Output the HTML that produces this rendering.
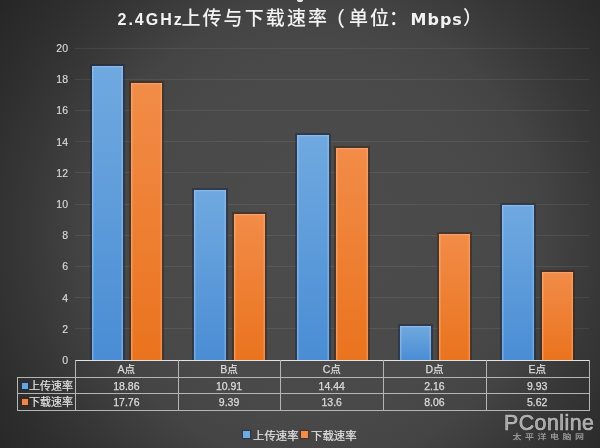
<!DOCTYPE html><html><head><meta charset="utf-8"><title>chart</title><style>
html,body{margin:0;padding:0;}
body{width:600px;height:448px;overflow:hidden;position:relative;
 background:radial-gradient(circle at 315px 235px,#4c4c4c 0px,#494949 180px,#444444 230px,#373737 290px,#2e2e2e 340px,#252525 400px);
 font-family:"Liberation Sans","Noto Sans CJK SC",sans-serif;color:#d9d9d9;}
.a{position:absolute;}
.t{position:absolute;white-space:nowrap;line-height:1;}
.g{position:absolute;left:75px;width:514px;height:1px;background:rgba(255,255,255,0.075);}
.yl{position:absolute;right:532px;font-size:10.5px;color:#d9d9d9;line-height:1;text-align:right;-webkit-text-stroke:0.15px #d9d9d9;}
.bo{position:absolute;filter:blur(0.5px);}
.bob{background:rgba(20,42,75,0.5);}
.boo{background:rgba(72,34,10,0.5);}
.bar{position:absolute;box-sizing:border-box;}
.b{background:linear-gradient(#70a9e0,#4a8dd4);box-shadow:inset 1.5px 1.2px 0 rgba(165,200,240,0.5),inset -1.5px 0 0 rgba(165,200,240,0.45);}
.o{background:linear-gradient(#f28c48,#ea731e);box-shadow:inset 1.5px 1.2px 0 rgba(245,180,140,0.55),inset -1.5px 0 0 rgba(245,180,140,0.45);}
.hl{position:absolute;height:1px;background:#b5b5b5;}
.vl{position:absolute;width:1px;background:#b5b5b5;}
.cell{position:absolute;font-size:10.5px;text-align:center;line-height:1;color:#dcdcdc;-webkit-text-stroke:0.25px #dcdcdc;}
.tl{position:absolute;white-space:nowrap;line-height:1;font-weight:bold;font-family:"Liberation Sans",sans-serif;letter-spacing:2px;color:#f2f2f2;}
.tc{position:absolute;white-space:nowrap;line-height:1;font-size:19px;font-weight:500;font-family:"Liberation Sans","Noto Sans CJK SC",sans-serif;color:#f2f2f2;}
</style></head><body>
<div class="tl" style="left:117.5px;top:12px;font-size:16px">2.4GHz</div>
<div class="tc" style="left:181.4px;top:9.2px;letter-spacing:2.1px">上传与下载速率</div>
<div class="tc" style="left:325px;top:9.2px;font-size:20px">（</div>
<div class="tc" style="left:349px;top:9.2px;letter-spacing:2.1px">单位</div>
<div class="tc" style="left:389px;top:9.2px">：</div>
<div class="tl" style="left:410.5px;top:11.5px;font-size:16px;font-family:&quot;DejaVu Sans&quot;,sans-serif;letter-spacing:1px">Mbps</div>
<div class="tc" style="left:463px;top:9.2px">）</div>
<div class="yl" style="top:355.0px">0</div>
<div class="g" style="top:328.3px"></div>
<div class="yl" style="top:323.8px">2</div>
<div class="g" style="top:297.1px"></div>
<div class="yl" style="top:292.6px">4</div>
<div class="g" style="top:265.9px"></div>
<div class="yl" style="top:261.4px">6</div>
<div class="g" style="top:234.7px"></div>
<div class="yl" style="top:230.2px">8</div>
<div class="g" style="top:203.5px"></div>
<div class="yl" style="top:199.0px">10</div>
<div class="g" style="top:172.3px"></div>
<div class="yl" style="top:167.8px">12</div>
<div class="g" style="top:141.1px"></div>
<div class="yl" style="top:136.6px">14</div>
<div class="g" style="top:109.9px"></div>
<div class="yl" style="top:105.4px">16</div>
<div class="g" style="top:78.7px"></div>
<div class="yl" style="top:74.2px">18</div>
<div class="g" style="top:47.5px"></div>
<div class="yl" style="top:43.0px">20</div>
<div class="bo bob" style="left:89.6px;top:63.8px;width:35.5px;height:296.2px"></div>
<div class="bar b" style="left:91.6px;top:65.8px;width:31.5px;height:294.2px"></div>
<div class="bo boo" style="left:129.0px;top:80.9px;width:35.3px;height:279.1px"></div>
<div class="bar o" style="left:131.0px;top:82.9px;width:31.3px;height:277.1px"></div>
<div class="bo bob" style="left:192.3px;top:187.8px;width:35.5px;height:172.2px"></div>
<div class="bar b" style="left:194.3px;top:189.8px;width:31.5px;height:170.2px"></div>
<div class="bo boo" style="left:231.7px;top:211.5px;width:35.3px;height:148.5px"></div>
<div class="bar o" style="left:233.7px;top:213.5px;width:31.3px;height:146.5px"></div>
<div class="bo bob" style="left:295.0px;top:132.7px;width:35.5px;height:227.3px"></div>
<div class="bar b" style="left:297.0px;top:134.7px;width:31.5px;height:225.3px"></div>
<div class="bo boo" style="left:334.4px;top:145.8px;width:35.3px;height:214.2px"></div>
<div class="bar o" style="left:336.4px;top:147.8px;width:31.3px;height:212.2px"></div>
<div class="bo bob" style="left:397.7px;top:324.3px;width:35.5px;height:35.7px"></div>
<div class="bar b" style="left:399.7px;top:326.3px;width:31.5px;height:33.7px"></div>
<div class="bo boo" style="left:437.1px;top:232.3px;width:35.3px;height:127.7px"></div>
<div class="bar o" style="left:439.1px;top:234.3px;width:31.3px;height:125.7px"></div>
<div class="bo bob" style="left:500.4px;top:203.1px;width:35.5px;height:156.9px"></div>
<div class="bar b" style="left:502.4px;top:205.1px;width:31.5px;height:154.9px"></div>
<div class="bo boo" style="left:539.8px;top:270.3px;width:35.3px;height:89.7px"></div>
<div class="bar o" style="left:541.8px;top:272.3px;width:31.3px;height:87.7px"></div>
<div class="hl" style="left:75.0px;width:514.5px;top:359.6px;height:1.6px;background:#e2e2e2"></div>
<div class="hl" style="left:17.3px;width:572.2px;top:377px"></div>
<div class="hl" style="left:17.3px;width:572.2px;top:393px"></div>
<div class="hl" style="left:17.3px;width:572.2px;top:410.3px"></div>
<div class="vl" style="left:17.3px;top:377px;height:34px"></div>
<div class="vl" style="left:75.0px;top:360px;height:51px"></div>
<div class="vl" style="left:177.7px;top:360px;height:51px"></div>
<div class="vl" style="left:280.4px;top:360px;height:51px"></div>
<div class="vl" style="left:383.1px;top:360px;height:51px"></div>
<div class="vl" style="left:485.8px;top:360px;height:51px"></div>
<div class="vl" style="left:588.5px;top:360px;height:51px"></div>
<div class="cell" style="left:75.0px;width:102.7px;top:364px">A点</div>
<div class="cell" style="left:75.0px;width:102.7px;top:381px">18.86</div>
<div class="cell" style="left:75.0px;width:102.7px;top:397px">17.76</div>
<div class="cell" style="left:177.7px;width:102.7px;top:364px">B点</div>
<div class="cell" style="left:177.7px;width:102.7px;top:381px">10.91</div>
<div class="cell" style="left:177.7px;width:102.7px;top:397px">9.39</div>
<div class="cell" style="left:280.4px;width:102.7px;top:364px">C点</div>
<div class="cell" style="left:280.4px;width:102.7px;top:381px">14.44</div>
<div class="cell" style="left:280.4px;width:102.7px;top:397px">13.6</div>
<div class="cell" style="left:383.1px;width:102.7px;top:364px">D点</div>
<div class="cell" style="left:383.1px;width:102.7px;top:381px">2.16</div>
<div class="cell" style="left:383.1px;width:102.7px;top:397px">8.06</div>
<div class="cell" style="left:485.8px;width:102.7px;top:364px">E点</div>
<div class="cell" style="left:485.8px;width:102.7px;top:381px">9.93</div>
<div class="cell" style="left:485.8px;width:102.7px;top:397px">5.62</div>
<div class="a" style="left:21.5px;top:383px;width:6.5px;height:6.3px;background:#68a3df;box-shadow:0 0 1px 1.2px rgba(20,42,75,0.55)"></div>
<div class="a" style="left:21.5px;top:399px;width:6.5px;height:6.3px;background:#f0874a;box-shadow:0 0 1px 1.2px rgba(72,34,10,0.55)"></div>
<div class="t" style="left:29px;top:381px;font-size:11px;color:#e0e0e0;-webkit-text-stroke:0.2px #e0e0e0">上传速率</div>
<div class="t" style="left:29px;top:396.5px;font-size:11px;color:#e0e0e0;-webkit-text-stroke:0.2px #e0e0e0">下载速率</div>
<div class="a" style="left:243px;top:431px;width:7px;height:7.2px;background:#70aae3;box-shadow:0 0 1px 1px rgba(20,42,75,0.5)"></div>
<div class="t" style="left:253px;top:430.5px;font-size:11.4px;color:#e0e0e0;-webkit-text-stroke:0.2px #e0e0e0">上传速率</div>
<div class="a" style="left:301px;top:431px;width:7px;height:7.2px;background:#f08c4c;box-shadow:0 0 1px 1px rgba(72,34,10,0.5)"></div>
<div class="t" style="left:311px;top:430.5px;font-size:11.4px;color:#e0e0e0;-webkit-text-stroke:0.2px #e0e0e0">下载速率</div>
<div class="t" style="left:504px;top:412.6px;font-family:&quot;Liberation Sans&quot;,sans-serif;font-size:21.3px;letter-spacing:0.5px;color:rgba(220,220,220,0.7);-webkit-text-stroke:0.7px rgba(220,220,220,0.7);text-shadow:0 0 1.5px rgba(0,0,0,0.5)">PConline</div>
<div class="t" style="left:512.5px;top:432.5px;font-family:&quot;Noto Sans CJK SC&quot;,sans-serif;font-weight:bold;font-size:9px;letter-spacing:3.5px;color:rgba(215,215,215,0.6);transform:scaleY(0.8);transform-origin:0 0">太平洋电脑网</div>
<div class="a" style="left:296.5px;top:-2px;width:6px;height:3.5px;border-radius:50%;background:#e8e8e8"></div>
</body></html>
